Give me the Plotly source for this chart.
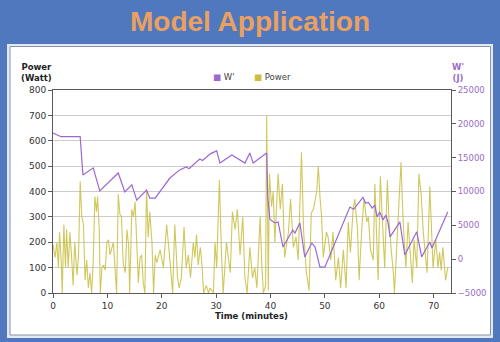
import plotly.graph_objects as go

# ---- data ----
# Power output (Watt) sampled over the session, time in minutes
power_t = [0.0, 0.4, 0.7, 1.0, 1.2, 1.5, 1.7, 2.0, 2.3, 2.5, 2.8, 3.1, 3.4, 3.7, 4.0, 4.4, 4.7,
           5.0, 5.3, 5.6, 5.9, 6.2, 6.5, 6.8, 7.1, 7.4, 7.7, 8.0, 8.2, 8.5, 8.7, 9.0, 9.3, 9.6,
           9.9, 10.2, 10.5, 11.1, 11.4, 11.7, 12.0, 12.3, 12.6, 12.9, 13.3, 13.6, 13.9, 14.1,
           14.5, 14.8, 15.1, 15.4, 15.7, 16.0, 16.3, 16.6, 16.9, 17.2, 17.5, 17.8, 18.2, 18.5,
           18.8, 19.1, 19.7, 20.3, 20.9, 21.5, 22.0, 22.4, 22.9, 23.2, 23.6, 24.1, 24.5, 24.9,
           25.3, 25.8, 26.1, 26.4, 26.7, 27.1, 27.4, 27.7, 28.2, 28.6, 28.9, 29.5, 29.8, 30.1,
           30.6, 31.0, 31.3, 31.9, 32.3, 32.6, 33.0, 33.5, 33.9, 34.4, 34.9, 35.3, 35.7, 36.2,
           36.7, 37.1, 37.5, 38.1, 38.4, 38.7, 39.1, 39.3, 39.6, 39.8, 40.2, 40.5, 40.8, 41.4,
           41.8, 42.2, 42.6, 43.3, 43.7, 44.2, 44.7, 45.1, 45.7, 46.1, 46.6, 47.1, 47.5, 47.9,
           48.5, 48.8, 49.1, 49.4, 49.7, 50.3, 50.6, 51.1, 51.5, 52.0, 52.5, 52.9, 53.4, 53.9,
           54.3, 54.7, 55.2, 55.5, 56.0, 56.3, 56.8, 57.2, 57.7, 58.0, 58.4, 58.9, 59.2, 59.5,
           59.8, 60.2, 60.6, 61.0, 61.5, 61.8, 62.2, 62.6, 62.8, 63.5, 64.0, 64.4, 64.9, 65.3,
           65.6, 66.1, 66.4, 66.9, 67.3, 67.7, 68.1, 68.6, 68.8, 69.3, 69.6, 69.9, 70.4, 70.8,
           71.1, 71.4, 71.7, 72.2, 72.6]
power_w = [190, 140, 200, 100, 240, 130, 0, 270, 100, 250, 100, 240, 150, 30, 200, 70, 150,
           440, 300, 270, 50, 130, 20, 80, 0, 120, 380, 320, 380, 250, 0, 100, 110, 90,
           200, 210, 150, 200, 100, 0, 390, 310, 300, 120, 80, 250, 190, 0,
           330, 300, 360, 200, 40, 140, 150, 40, 0, 410, 220, 320, 200, 0,
           150, 120, 170, 100, 270, 130, 0, 270, 60, 20, 60, 260, 100, 150,
           60, 200, 140, 230, 110, 180, 110, 0, 30, 0, 20, 0, 200, 100,
           445, 150, 0, 200, 130, 80, 320, 250, 330, 150, 300, 60, 0, 180,
           60, 100, 20, 300, 110, 0, 30, 700, 10, 470, 340, 400, 200, 470,
           330, 430, 140, 240, 370, 180, 220, 130, 555, 240, 80, 10, 315, 330,
           400, 500, 380, 300, 140, 240, 220, 130, 240, 50, 140, 20, 170, 20,
           280, 160, 330, 370, 250, 50, 260, 370, 280, 300, 170, 130, 430, 210,
           50, 460, 280, 100, 445, 280, 170, 80, 0, 315, 515, 280, 100, 280,
           180, 40, 210, 100, 470, 390, 240, 130, 80, 420, 260, 100, 210, 100,
           160, 90, 180, 50, 100]

# W' balance (Joule)
wbal_t = [0.0, 1.5, 5.0, 5.5, 7.4, 8.6, 12.0, 13.2, 14.5, 15.4, 17.2, 17.8, 18.8, 21.5,
          23.3, 24.5, 25.0, 27.0, 27.5, 29.0, 30.1, 30.7, 32.9, 35.3, 36.2, 36.8, 39.3,
          39.5, 39.9, 40.8, 41.4, 42.3, 44.1, 44.5, 45.4, 46.3, 47.6, 48.2, 49.1, 50.0,
          54.6, 55.3, 57.0, 57.5, 58.0, 58.7, 59.2, 59.6, 60.1, 60.7, 61.2, 61.6, 62.0,
          63.8, 64.7, 66.9, 67.8, 69.3, 69.7, 70.2, 72.6]
wbal_j = [18625, 18100, 18100, 12440, 13490, 10075, 12740, 9925, 10975, 8725, 10225, 9025,
          9025, 11990, 13190, 13640, 13380, 14800, 14580, 15600, 16000, 14200, 15400, 14200,
          15700, 14200, 15700, 9175, 5875, 5350, 5500, 1790, 4300, 3850, 5350, 325, 2390,
          1790, -1175, -1175, 7710, 7375, 9140, 8300, 8400, 7560, 8000, 6250, 6960, 5800,
          6500, 5500, 3290, 5500, 625, 4040, 325, 2540, 1640, 2540, 6960]

x_ticks = [0, 10, 20, 30, 40, 50, 60, 70]
power_ticks = [0, 100, 200, 300, 400, 500, 600, 700, 800]
wbal_ticks = [-5000, 0, 5000, 10000, 15000, 20000, 25000]

# ---- styling ----
W, H = 500, 342
ML, MR, MT, MB = 53, 49, 90, 49
PW, PH = W - ML - MR, H - MT - MB

BG_BLUE = "#5078be"
TITLE_ORANGE = "#eaa060"
PURPLE = "#9a68d2"
PURPLE_TXT = "#9a6cc6"
OLIVE = "rgba(200,190,64,0.85)"
AXIS = "#5a5a5a"
FONT = "DejaVu Sans"


def px(x):
    return (x - ML) / PW


def py(y):
    return (H - MB - y) / PH


fig = go.Figure()

fig.add_trace(go.Scatter(
    x=wbal_t, y=wbal_j, yaxis="y2", mode="lines", name="W'",
    line=dict(color=PURPLE, width=1.2), showlegend=False,
))
fig.add_trace(go.Scatter(
    x=power_t, y=power_w, mode="lines", name="Power",
    line=dict(color=OLIVE, width=1.1), showlegend=False,
))

shapes = [
    # light outer frame of the chart card
    dict(type="rect", xref="paper", yref="paper", layer="below",
         x0=px(7), x1=px(493), y0=py(338), y1=py(44),
         fillcolor="#e2e9f5", line=dict(width=0)),
    # white chart card
    dict(type="rect", xref="paper", yref="paper", layer="below",
         x0=px(10), x1=px(490.5), y0=py(335), y1=py(46.5),
         fillcolor="white", line=dict(color="#8a93a3", width=1)),
]

annotations = [
    dict(text="<b>Model Application</b>", x=px(250), y=py(21), xref="paper", yref="paper",
         showarrow=False, xanchor="center", yanchor="middle",
         font=dict(family="Liberation Sans", size=28, color=TITLE_ORANGE)),
    dict(text="<b>Time (minutes)</b>", x=px(251), y=py(316), xref="paper", yref="paper",
         showarrow=False, xanchor="center", yanchor="middle",
         font=dict(family=FONT, size=8.5, color="#222")),
    dict(text="<b>Power</b><br><b>(Watt)</b>", x=px(36.5), y=py(72), xref="paper", yref="paper",
         showarrow=False, xanchor="center", yanchor="middle", align="center",
         font=dict(family=FONT, size=8.5, color="#222")),
    dict(text="<b>W'</b><br><b>(J)</b>", x=px(458), y=py(72), xref="paper", yref="paper",
         showarrow=False, xanchor="center", yanchor="middle", align="center",
         font=dict(family=FONT, size=8.5, color=PURPLE_TXT)),
    # legend entries
    dict(text=f"<span style='color:{PURPLE}'>■</span> W'", x=px(211), y=py(77),
         xref="paper", yref="paper", showarrow=False, xanchor="left", yanchor="middle",
         font=dict(family=FONT, size=8.5, color="#444")),
    dict(text="<span style='color:#c9bf3e'>■</span> Power", x=px(252), y=py(77),
         xref="paper", yref="paper", showarrow=False, xanchor="left", yanchor="middle",
         font=dict(family=FONT, size=8.5, color="#444")),
]

fig.update_layout(
    width=W, height=H,
    margin=dict(l=ML, r=MR, t=MT, b=MB, pad=0),
    paper_bgcolor=BG_BLUE, plot_bgcolor="white",
    showlegend=False,
    shapes=shapes, annotations=annotations,
    xaxis=dict(range=[0, 73.2], tickvals=x_ticks, ticks="outside", ticklen=4,
               tickcolor=AXIS, showline=True, linecolor=AXIS, linewidth=1, mirror=True,
               showgrid=False, zeroline=False,
               tickfont=dict(family=FONT, size=9, color="#333")),
    yaxis=dict(range=[0, 800], tickvals=power_ticks, ticks="outside", ticklen=4,
               tickcolor=AXIS, showline=True, linecolor=AXIS, linewidth=1,
               showgrid=True, gridcolor="#cccccc", gridwidth=1, zeroline=False,
               tickfont=dict(family=FONT, size=9, color="#333")),
    yaxis2=dict(range=[-5000, 25000], tickvals=wbal_ticks, tickformat="d",
                overlaying="y", side="right",
                ticks="outside", ticklen=4, tickcolor=AXIS, showline=True,
                linecolor=AXIS, linewidth=1, showgrid=False, zeroline=False,
                tickfont=dict(family=FONT, size=8.5, color=PURPLE_TXT)),
)

fig.write_html("out.html")
